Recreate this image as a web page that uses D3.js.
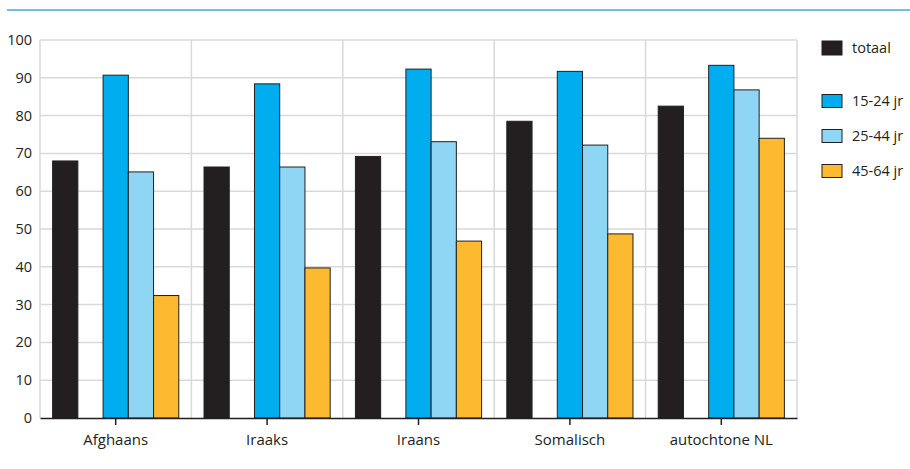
<!DOCTYPE html>
<html><head><meta charset="utf-8">
<script src="https://cdn.jsdelivr.net/npm/d3@7"></script>
<style>body{margin:0;background:#fff}svg{display:block}text{font-family:"Open Sans",sans-serif;fill:#231f20}</style>
</head><body><svg id="c" width="910" height="469"></svg>
<script>
const categories = ["Afghaans","Iraaks","Iraans","Somalisch","autochtone NL"];
const seriesNames = ["totaal","15-24 jr","25-44 jr","45-64 jr"];
const totaal = [68.0, 66.4, 69.2, 78.5, 82.5];
const jr15_24 = [90.7, 88.4, 92.3, 91.7, 93.3];
const jr25_44 = [65.1, 66.4, 73.1, 72.2, 86.8];
const jr45_64 = [32.4, 39.7, 46.8, 48.7, 74.0];
const yTicks = [0,10,20,30,40,50,60,70,80,90,100];
const colors = ["#231f20","#00aeef","#8fd6f5","#fdb92f"];
const series = [totaal, jr15_24, jr25_44, jr45_64];

const svg = d3.select("#c");
const L = 40, R = 797, T = 40, B = 418;
const x = d3.scaleBand().domain(categories).range([L, R]);
const y = d3.scaleLinear().domain([0,100]).range([B, T]);
// slots within group: totaal, gap, 15-24, 25-44, 45-64
const slots = ["totaal","gap","15-24 jr","25-44 jr","45-64 jr"];
const xs = d3.scaleBand().domain(slots).range([0, x.bandwidth()]).paddingInner(0).paddingOuter(0.5);

// top rule
svg.append("line").attr("x1",7).attr("x2",910).attr("y1",10).attr("y2",10)
  .attr("stroke","#4ea5da").attr("stroke-width",1.5);

// grid
svg.append("g").selectAll("line").data(yTicks.filter(d=>d>0)).join("line")
  .attr("x1",L).attr("x2",R).attr("y1",d=>y(d)).attr("y2",d=>y(d))
  .attr("stroke","#d9d9d9").attr("stroke-width",1.5);
const vg = categories.map(c=>x(c)).concat([R]);
svg.append("g").selectAll("line").data(vg).join("line")
  .attr("x1",d=>d).attr("x2",d=>d).attr("y1",T).attr("y2",B)
  .attr("stroke","#d9d9d9").attr("stroke-width",1.5);

// y labels
svg.append("g").selectAll("text").data(yTicks).join("text")
  .attr("x",32).attr("y",d=>y(d)+5).attr("text-anchor","end")
  .attr("font-size",14.5).text(d=>d);

// bars
series.forEach((vals,si)=>{
  svg.append("g").selectAll("rect").data(vals).join("rect")
    .attr("x",(d,i)=>x(categories[i]) + xs(slots[si===0?0:si+1]))
    .attr("width",xs.bandwidth())
    .attr("y",d=>y(d)).attr("height",d=>B-y(d))
    .attr("fill",colors[si]).attr("stroke","#231f20").attr("stroke-width",1);
});

// x axis
const ax = svg.append("g").attr("transform",`translate(0,${B})`)
  .call(d3.axisBottom(x).tickSize(7).tickSizeOuter(0).tickPadding(9));
ax.select(".domain").attr("stroke","#231f20").attr("stroke-width",1.5);
ax.selectAll(".tick line").attr("stroke","#231f20").attr("stroke-width",1.5);
ax.selectAll(".tick text").attr("font-size",15).attr("font-family","'Open Sans',sans-serif").attr("fill","#231f20");

// legend
const ly = [48, 101, 136, 171];
const lh = [14, 13, 13, 13];
seriesNames.forEach((n,i)=>{
  svg.append("rect").attr("x",822).attr("y",ly[i]-lh[i]/2).attr("width",20).attr("height",lh[i])
    .attr("fill",colors[i]).attr("stroke","#231f20").attr("stroke-width",1);
  svg.append("text").attr("x",852).attr("y",ly[i]+5).attr("font-size",14.5).text(n);
});
</script></body></html>
